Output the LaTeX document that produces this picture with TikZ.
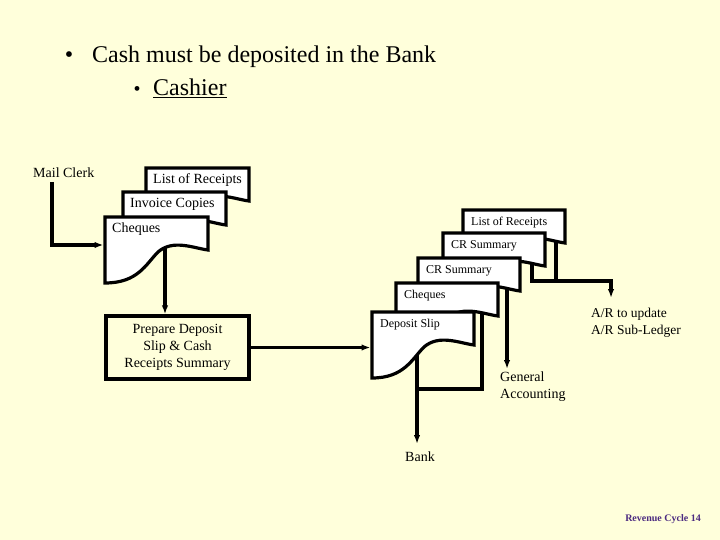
\documentclass[tikz,border=0pt]{standalone}
\usepackage{fontspec}
\setmainfont{Liberation Serif}
\usetikzlibrary{arrows.meta}
\definecolor{slidebg}{HTML}{FFFFDB}
\definecolor{footpurple}{HTML}{4B2A80}

\begin{document}
\begin{tikzpicture}[
  x=1pt,
  y=-1pt,
  line join=miter,
  docpage/.style={draw=black,fill=white,line width=3.2pt},
  flow/.style={draw=black,line width=3.2pt},
  flowarrow/.style={-{Latex[length=9pt,width=6.5pt]}},
  doctext/.style={anchor=west,inner sep=0pt},
  plaintext/.style={inner sep=0pt,font=\fontsize{14}{17}\selectfont}
]
  % Slide background.
  \fill[slidebg] (0,0) rectangle (720,540);

  % Title bullets.
  \node[inner sep=0pt,anchor=base,font=\fontsize{24}{28}\selectfont] (bul1) at (69,63) {\textbullet};
  \node[inner sep=0pt,anchor=base west,font=\fontsize{24}{28}\selectfont] (cash) at (92,63) {Cash must be deposited in the Bank};
  \node[inner sep=0pt,anchor=base,font=\fontsize{20}{24}\selectfont] (bul2) at (137,96) {\textbullet};
  \node[inner sep=0pt,anchor=base west,font=\fontsize{24}{28}\selectfont] (cashier) at (153,96) {\underline{Cashier}};

  % Plain labels.
  \node[plaintext,anchor=base west] (mail) at (33,178) {Mail Clerk};
  \node[plaintext,anchor=base west] (bank) at (405,461) {Bank};
  \node[plaintext,anchor=north west,align=left] (gen) at (500,372) {General\\Accounting};
  \node[plaintext,anchor=north west,align=left,font=\fontsize{13.5}{17}\selectfont] (ar) at (591,308) {A/R to update\\A/R Sub-Ledger};
  \node[draw,line width=3.2pt,minimum width=143pt,minimum height=63pt,align=center,
        font=\fontsize{14}{17}\selectfont] (prep) at (177.5,347.5) {Prepare Deposit\\Slip \& Cash\\Receipts Summary};

  % Connector ends on the documents.
  \coordinate (mailout) at (52,182);
  \coordinate (chqLin) at (103.5,245);
  \coordinate (chqLout) at (165,240);
  \coordinate (depin) at (370.5,347.5);
  \coordinate (depout) at (417,350);
  \coordinate (banktip) at (417,444);
  \coordinate (bankjoin) at (417,389);
  \coordinate (chqRout) at (482,300);
  \coordinate (crBout) at (507,280);
  \coordinate (gentip) at (507,369);
  \coordinate (crAout) at (532,255);
  \coordinate (recRout) at (556,230);
  \coordinate (arjoin) at (611,281);
  \coordinate (artip) at (611,298);

  % Flow lines (documents are drawn on top).
  \draw[flow,flowarrow] (mailout) |- (chqLin);
  \draw[flow,flowarrow] (chqLout) -- (chqLout |- prep.north);
  \draw[flow,flowarrow] (prep.east) -- (depin);
  \draw[flow,flowarrow] (depout) -- (banktip);
  \draw[flow] (chqRout) |- (bankjoin);
  \draw[flow,flowarrow] (crBout) -- (gentip);
  \draw[flow] (recRout) -- (recRout |- arjoin);
  \draw[flow,flowarrow] (crAout) |- (arjoin) -- (artip);

  % Mail Clerk documents, back to front.
  \begin{scope}[font=\fontsize{14}{17}\selectfont]
    \foreach \nm/\px/\py/\txt in {recL/146/168/List of Receipts,invL/123/192/Invoice Copies,chqL/105/217/Cheques} {
      \draw[docpage] (\px,\py) -- (\px+103,\py) -- (\px+103,\py+33)
        .. controls (\px+88,\py+31) and (\px+68,\py+22) .. (\px+53,\py+35)
        .. controls (\px+41,\py+47) and (\px+33,\py+66) .. (\px,\py+66) -- cycle;
      \node[doctext] (\nm) at (\px+7,\py+12) {\txt};
    }
  \end{scope}

  % Cashier documents, back to front.
  \begin{scope}[font=\fontsize{12}{14}\selectfont]
    \foreach \nm/\px/\py/\txt in {recR/463/210/List of Receipts,crA/443/233/CR Summary,crB/418/258/CR Summary,chqR/396/283/Cheques,dep/372/312/Deposit Slip} {
      \draw[docpage] (\px,\py) -- (\px+102,\py) -- (\px+102,\py+33)
        .. controls (\px+87,\py+31) and (\px+67,\py+22) .. (\px+52,\py+35)
        .. controls (\px+40,\py+47) and (\px+32,\py+66) .. (\px,\py+66) -- cycle;
      \node[doctext] (\nm) at (\px+8,\py+12.5) {\txt};
    }
  \end{scope}

  % Footer.
  \node[inner sep=0pt,anchor=base east,text=footpurple,font=\bfseries\fontsize{10}{12}\selectfont] (foot) at (701,521) {Revenue Cycle 14};
\end{tikzpicture}
\end{document}
